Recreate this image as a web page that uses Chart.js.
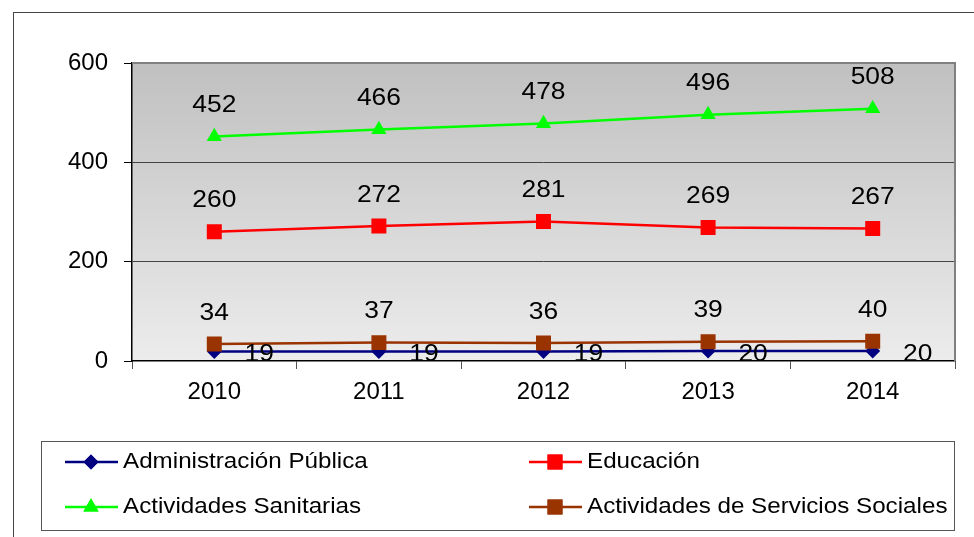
<!DOCTYPE html>
<html>
<head>
<meta charset="utf-8">
<script src="https://cdn.jsdelivr.net/npm/chart.js@4"></script>
<style>
  html, body { margin: 0; padding: 0; background: #fff; }
  #wrap { position: relative; width: 974px; height: 537px; }
</style>
</head>
<body>
<div id="wrap"><canvas id="chart" width="974" height="537"></canvas></div>
<script>
"use strict";

///////////////////////////////////////
// Data

const years = ["2010", "2011", "2012", "2013", "2014"];

const administracion = [19, 19, 19, 20, 20];
const educacion = [260, 272, 281, 269, 267];
const sanitarias = [452, 466, 478, 496, 508];
const sociales = [34, 37, 36, 39, 40];

const seriesNames = [
  "Administración Pública",
  "Educación",
  "Actividades Sanitarias",
  "Actividades de Servicios Sociales",
];

const yTicks = [0, 200, 400, 600];

///////////////////////////////////////
// Styles

const FONT = "'Liberation Sans', Arial, sans-serif";
const STRETCH = 1.1; // the original text is a bit wider than Arial

const colors = {
  admin: "#000080",
  edu: "#FF0000",
  sani: "#00FF00",
  soc: "#993300",
};

const markers = [
  { style: "rectRot", radius: 7.5, color: colors.admin },
  { style: "rect", radius: 10.6, color: colors.edu },
  { style: "triangle", radius: 8.8, color: colors.sani },
  { style: "rect", radius: 10.6, color: colors.soc },
];

const makeSet = function (i, data, order) {
  return {
    label: seriesNames[i],
    data: data,
    borderColor: markers[i].color,
    backgroundColor: markers[i].color,
    borderWidth: 2.5,
    pointStyle: markers[i].style,
    pointRadius: markers[i].radius,
    pointBorderWidth: 0,
    pointHoverRadius: markers[i].radius,
    tension: 0,
    order: order,
  };
};

const wideText = function (ctx, text, x, y) {
  ctx.save();
  ctx.translate(x, y);
  ctx.scale(STRETCH, 1);
  ctx.fillText(text, 0, 0);
  ctx.restore();
};

///////////////////////////////////////
// Plugins

const frame = {
  id: "frame",
  beforeDraw(chart) {
    const ctx = chart.ctx;
    const a = chart.chartArea;
    ctx.save();
    ctx.fillStyle = "#fff";
    ctx.fillRect(0, 0, chart.width, chart.height);
    ctx.strokeStyle = "#444";
    ctx.lineWidth = 1;
    ctx.strokeRect(13.5, 12.5, chart.width + 10, chart.height + 10);

    const g = ctx.createLinearGradient(0, a.top, 0, a.bottom);
    g.addColorStop(0, "#c0c0c0");
    g.addColorStop(1, "#ececec");
    ctx.fillStyle = g;
    ctx.fillRect(a.left, a.top, a.right - a.left, a.bottom - a.top);
    ctx.restore();
  },
  beforeDatasetsDraw(chart) {
    const ctx = chart.ctx;
    const a = chart.chartArea;
    ctx.save();
    ctx.strokeStyle = "#808080";
    ctx.lineWidth = 2;
    ctx.beginPath();
    ctx.moveTo(a.left, a.top);
    ctx.lineTo(a.right, a.top);
    ctx.lineTo(a.right, a.bottom);
    ctx.stroke();
    ctx.restore();
  },
  afterDatasetsDraw(chart) {
    const ctx = chart.ctx;
    ctx.save();
    ctx.font = "24px " + FONT;
    ctx.fillStyle = "#000";
    ctx.textAlign = "center";
    ctx.textBaseline = "middle";
    chart.data.datasets.forEach(function (ds, i) {
      const meta = chart.getDatasetMeta(i);
      meta.data.forEach(function (pt, j) {
        if (i === 0) {
          wideText(ctx, ds.data[j], pt.x + 45, pt.y + 3);
        } else {
          wideText(ctx, ds.data[j], pt.x, pt.y - 31);
        }
      });
    });
    ctx.restore();
  },
  afterDraw(chart) {
    const ctx = chart.ctx;
    ctx.save();
    ctx.strokeStyle = "#555";
    ctx.lineWidth = 1;
    ctx.strokeRect(41.5, 441.5, 913, 89);

    const slots = [
      { x: 64, y: 462 },
      { x: 528, y: 462 },
      { x: 64, y: 507 },
      { x: 528, y: 507 },
    ];
    ctx.font = "22px " + FONT;
    ctx.textBaseline = "middle";
    ctx.textAlign = "left";
    slots.forEach(function (s, i) {
      const m = markers[i];
      ctx.strokeStyle = m.color;
      ctx.fillStyle = m.color;
      ctx.lineWidth = 2.5;
      ctx.beginPath();
      ctx.moveTo(s.x + 1, s.y);
      ctx.lineTo(s.x + 54, s.y);
      ctx.stroke();
      Chart.helpers.drawPoint(ctx, {
        pointStyle: m.style,
        radius: m.radius,
        borderWidth: 0,
        rotation: 0,
      }, s.x + 27, s.y);
      ctx.fill();
      ctx.fillStyle = "#000";
      wideText(ctx, seriesNames[i], s.x + 59, s.y);
    });
    ctx.restore();
  },
};

///////////////////////////////////////
// Chart config

const config = {
  type: "line",
  data: {
    labels: years,
    datasets: [
      makeSet(0, administracion, 4),
      makeSet(1, educacion, 3),
      makeSet(2, sanitarias, 2),
      makeSet(3, sociales, 1),
    ],
  },
  options: {
    responsive: false,
    animation: false,
    events: [],
    layout: { padding: { top: 63, right: 19, left: 0, bottom: 0 } },
    plugins: {
      legend: { display: false },
      tooltip: { enabled: false },
    },
    scales: {
      x: {
        offset: true,
        afterFit(scale) {
          scale.height = 176;
        },
        grid: {
          offset: true,
          drawOnChartArea: false,
          drawTicks: true,
          tickLength: 8,
          color: "#555",
        },
        border: { display: true, color: "#000", width: 1.5 },
        ticks: {
          color: "#000",
          padding: 9,
          maxRotation: 0,
          font: { family: FONT, size: 24 },
        },
      },
      y: {
        min: 0,
        max: 600,
        afterFit(scale) {
          scale.width = 132;
        },
        afterBuildTicks(scale) {
          scale.ticks = yTicks.map(function (v) {
            return { value: v };
          });
        },
        grid: {
          color: function (c) {
            return c.tick && (c.tick.value === 200 || c.tick.value === 400)
              ? "#444"
              : "rgba(0,0,0,0)";
          },
          tickColor: "#000",
          tickLength: 8,
          lineWidth: 1,
        },
        border: { display: true, color: "#000", width: 1.5 },
        ticks: {
          color: "#000",
          padding: 16,
          font: { family: FONT, size: 24 },
        },
      },
    },
  },
  plugins: [frame],
};

///////////////////////////////////////
// Chart display

const chartEl = document.getElementById("chart");
const chart = new Chart(chartEl, config);
</script>
</body>
</html>
